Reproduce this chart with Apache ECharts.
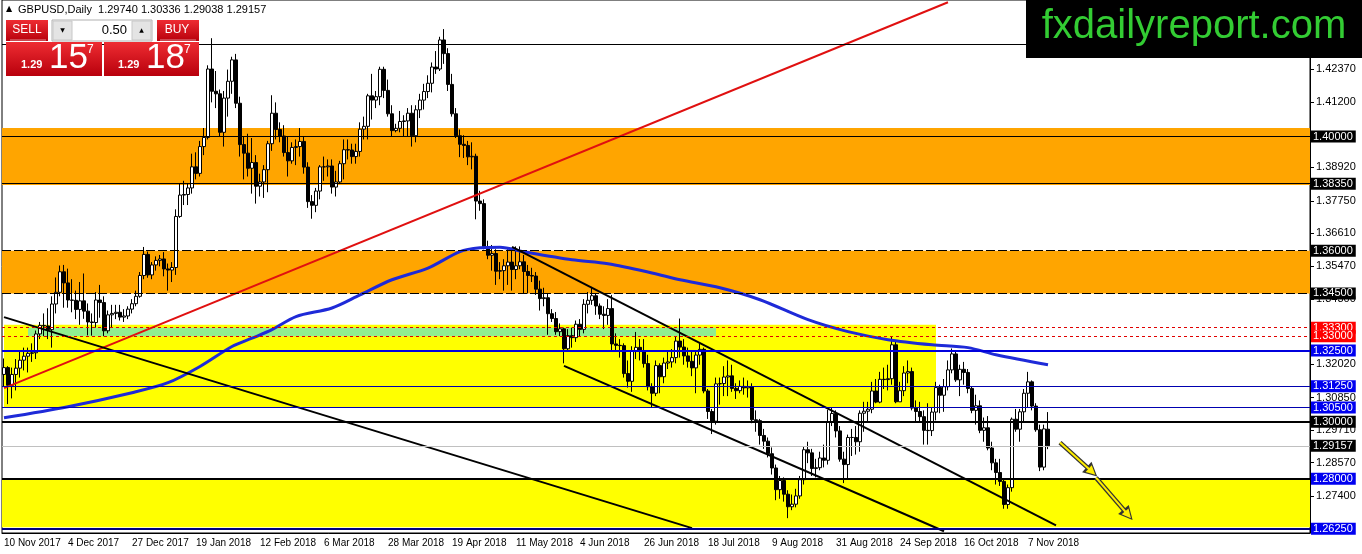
<!DOCTYPE html>
<html>
<head>
<meta charset="utf-8">
<title>GBPUSD Daily</title>
<script src="https://cdn.jsdelivr.net/npm/echarts@6/dist/echarts.min.js"></script>
<style>
  html, body { margin: 0; padding: 0; background: #fff; }
  #main { width: 1362px; height: 554px; }
</style>
</head>
<body>
<div id="main"></div>
<script>
// trading days start on 10 Nov 2017, Christmas and New Year have no bar
const firstDay = '2017-11-10';
const holidays = ['2017-12-25', '2018-01-01'];
const slotCount = 327;

// daily candles, [open, close, low, high]
const candles = [
  [1.3166, 1.3190, 1.3122, 1.3222], [1.3190, 1.3128, 1.3062, 1.3195], [1.3128, 1.3166, 1.3082, 1.3190],
  [1.3166, 1.3188, 1.3110, 1.3220], [1.3188, 1.3216, 1.3155, 1.3250], [1.3216, 1.3230, 1.3180, 1.3260],
  [1.3230, 1.3240, 1.3173, 1.3260], [1.3240, 1.3242, 1.3210, 1.3275], [1.3242, 1.3308, 1.3220, 1.3320],
  [1.3308, 1.3338, 1.3290, 1.3350], [1.3338, 1.3336, 1.3300, 1.3380], [1.3336, 1.3323, 1.3290, 1.3398],
  [1.3323, 1.3413, 1.3260, 1.3440], [1.3413, 1.3454, 1.3380, 1.3506], [1.3454, 1.3526, 1.3440, 1.3548],
  [1.3526, 1.3487, 1.3400, 1.3550], [1.3487, 1.3427, 1.3400, 1.3537], [1.3427, 1.3426, 1.3384, 1.3500],
  [1.3426, 1.3394, 1.3360, 1.3460], [1.3394, 1.3424, 1.3340, 1.3490], [1.3424, 1.3388, 1.3361, 1.3520],
  [1.3388, 1.3350, 1.3303, 1.3415], [1.3350, 1.3348, 1.3302, 1.3380], [1.3348, 1.3427, 1.3330, 1.3455],
  [1.3427, 1.3418, 1.3365, 1.3480], [1.3418, 1.3319, 1.3300, 1.3440], [1.3319, 1.3375, 1.3310, 1.3390],
  [1.3375, 1.3380, 1.3330, 1.3410], [1.3380, 1.3384, 1.3360, 1.3410], [1.3384, 1.3367, 1.3355, 1.3410],
  [1.3367, 1.3371, 1.3350, 1.3395], [1.3371, 1.3395, 1.3360, 1.3405], [1.3395, 1.3414, 1.3380, 1.3430],
  [1.3414, 1.3440, 1.3405, 1.3460], [1.3440, 1.3513, 1.3435, 1.3525], [1.3513, 1.3587, 1.3500, 1.3613],
  [1.3587, 1.3515, 1.3505, 1.3597], [1.3515, 1.3550, 1.3500, 1.3560], [1.3550, 1.3566, 1.3530, 1.3580],
  [1.3566, 1.3571, 1.3545, 1.3585], [1.3571, 1.3536, 1.3510, 1.3595], [1.3536, 1.3532, 1.3460, 1.3555],
  [1.3532, 1.3541, 1.3490, 1.3560], [1.3541, 1.3720, 1.3515, 1.3745], [1.3720, 1.3795, 1.3715, 1.3835],
  [1.3795, 1.3797, 1.3760, 1.3845], [1.3797, 1.3820, 1.3760, 1.3835], [1.3820, 1.3894, 1.3800, 1.3940],
  [1.3894, 1.3871, 1.3850, 1.3945], [1.3871, 1.3965, 1.3860, 1.3985], [1.3965, 1.3997, 1.3935, 1.4030],
  [1.3997, 1.4237, 1.3990, 1.4250], [1.4237, 1.4159, 1.4120, 1.4345], [1.4159, 1.4150, 1.4100, 1.4230],
  [1.4150, 1.4015, 1.4000, 1.4165], [1.4015, 1.4135, 1.3965, 1.4160], [1.4135, 1.4194, 1.4070, 1.4235],
  [1.4194, 1.4269, 1.4150, 1.4280], [1.4269, 1.4117, 1.4100, 1.4290], [1.4117, 1.3972, 1.3930, 1.4140],
  [1.3972, 1.3942, 1.3850, 1.4000], [1.3942, 1.3889, 1.3860, 1.4010], [1.3889, 1.3909, 1.3800, 1.3995],
  [1.3909, 1.3826, 1.3765, 1.3935], [1.3826, 1.3841, 1.3790, 1.3870], [1.3841, 1.3884, 1.3785, 1.3900],
  [1.3884, 1.3975, 1.3805, 1.3985], [1.3975, 1.4082, 1.3950, 1.4145], [1.4082, 1.4025, 1.3990, 1.4120],
  [1.4025, 1.4002, 1.3980, 1.4050], [1.4002, 1.3944, 1.3930, 1.4040], [1.3944, 1.3915, 1.3860, 1.4000],
  [1.3915, 1.3962, 1.3905, 1.3980], [1.3962, 1.3965, 1.3900, 1.3990], [1.3965, 1.3983, 1.3930, 1.4030],
  [1.3983, 1.3893, 1.3870, 1.4000], [1.3893, 1.3772, 1.3750, 1.3910], [1.3772, 1.3759, 1.3712, 1.3795],
  [1.3759, 1.3809, 1.3735, 1.3820], [1.3809, 1.3894, 1.3780, 1.3900], [1.3894, 1.3894, 1.3845, 1.3930],
  [1.3894, 1.3897, 1.3860, 1.3920], [1.3897, 1.3823, 1.3800, 1.3920], [1.3823, 1.3841, 1.3790, 1.3880],
  [1.3841, 1.3905, 1.3835, 1.3915], [1.3905, 1.3954, 1.3850, 1.3990], [1.3954, 1.3953, 1.3920, 1.3990],
  [1.3953, 1.3930, 1.3905, 1.3975], [1.3930, 1.3948, 1.3905, 1.3975], [1.3948, 1.4026, 1.3930, 1.4050],
  [1.4026, 1.4036, 1.3990, 1.4070], [1.4036, 1.4143, 1.3990, 1.4150], [1.4143, 1.4128, 1.4060, 1.4220],
  [1.4128, 1.4140, 1.4100, 1.4160], [1.4140, 1.4236, 1.4110, 1.4245], [1.4236, 1.4162, 1.4135, 1.4245],
  [1.4162, 1.4080, 1.4070, 1.4200], [1.4080, 1.4021, 1.4000, 1.4110], [1.4021, 1.4029, 1.4015, 1.4045],
  [1.4029, 1.4053, 1.4015, 1.4090], [1.4053, 1.4055, 1.4000, 1.4075], [1.4055, 1.4082, 1.4000, 1.4100],
  [1.4082, 1.4003, 1.3965, 1.4110], [1.4003, 1.4094, 1.3980, 1.4110], [1.4094, 1.4128, 1.4065, 1.4150],
  [1.4128, 1.4158, 1.4095, 1.4185], [1.4158, 1.4187, 1.4135, 1.4215], [1.4187, 1.4244, 1.4155, 1.4260],
  [1.4244, 1.4237, 1.4220, 1.4300], [1.4237, 1.4339, 1.4230, 1.4350], [1.4339, 1.4291, 1.4255, 1.4377],
  [1.4291, 1.4183, 1.4160, 1.4310], [1.4183, 1.4080, 1.4070, 1.4220], [1.4080, 1.4003, 1.3995, 1.4100],
  [1.4003, 1.3973, 1.3928, 1.4025], [1.3973, 1.3969, 1.3925, 1.4005], [1.3969, 1.3929, 1.3900, 1.3985],
  [1.3929, 1.3931, 1.3885, 1.3980], [1.3931, 1.3774, 1.3710, 1.3940], [1.3774, 1.3765, 1.3740, 1.3810],
  [1.3765, 1.3614, 1.3605, 1.3780], [1.3614, 1.3584, 1.3570, 1.3635], [1.3584, 1.3590, 1.3530, 1.3620],
  [1.3590, 1.3528, 1.3480, 1.3605], [1.3528, 1.3530, 1.3500, 1.3560], [1.3530, 1.3547, 1.3460, 1.3570],
  [1.3547, 1.3560, 1.3480, 1.3605], [1.3560, 1.3534, 1.3460, 1.3605], [1.3534, 1.3547, 1.3500, 1.3615],
  [1.3547, 1.3561, 1.3535, 1.3615], [1.3561, 1.3527, 1.3450, 1.3585], [1.3527, 1.3513, 1.3450, 1.3550],
  [1.3513, 1.3511, 1.3490, 1.3540], [1.3511, 1.3465, 1.3445, 1.3525], [1.3465, 1.3432, 1.3390, 1.3495],
  [1.3432, 1.3435, 1.3405, 1.3470], [1.3435, 1.3379, 1.3305, 1.3450], [1.3379, 1.3362, 1.3350, 1.3395],
  [1.3362, 1.3316, 1.3305, 1.3385], [1.3316, 1.3326, 1.3300, 1.3345], [1.3326, 1.3256, 1.3205, 1.3330],
  [1.3256, 1.3302, 1.3250, 1.3325], [1.3302, 1.3295, 1.3260, 1.3330], [1.3295, 1.3342, 1.3280, 1.3355],
  [1.3342, 1.3324, 1.3300, 1.3360], [1.3324, 1.3412, 1.3310, 1.3430], [1.3412, 1.3426, 1.3380, 1.3455],
  [1.3426, 1.3442, 1.3410, 1.3473], [1.3442, 1.3406, 1.3375, 1.3450], [1.3406, 1.3377, 1.3360, 1.3415],
  [1.3377, 1.3373, 1.3325, 1.3405], [1.3373, 1.3397, 1.3340, 1.3430], [1.3397, 1.3273, 1.3250, 1.3445],
  [1.3273, 1.3268, 1.3245, 1.3310], [1.3268, 1.3267, 1.3225, 1.3290], [1.3267, 1.3169, 1.3155, 1.3275],
  [1.3169, 1.3142, 1.3120, 1.3215], [1.3142, 1.3250, 1.3105, 1.3265], [1.3250, 1.3261, 1.3220, 1.3315],
  [1.3261, 1.3248, 1.3215, 1.3290], [1.3248, 1.3204, 1.3190, 1.3290], [1.3204, 1.3123, 1.3110, 1.3235],
  [1.3123, 1.3100, 1.3050, 1.3135], [1.3100, 1.3197, 1.3090, 1.3215], [1.3197, 1.3158, 1.3100, 1.3205],
  [1.3158, 1.3206, 1.3135, 1.3225], [1.3206, 1.3210, 1.3185, 1.3245], [1.3210, 1.3225, 1.3190, 1.3255],
  [1.3225, 1.3283, 1.3205, 1.3300], [1.3283, 1.3262, 1.3225, 1.3362], [1.3262, 1.3231, 1.3200, 1.3290],
  [1.3231, 1.3212, 1.3190, 1.3260], [1.3212, 1.3189, 1.3160, 1.3245], [1.3189, 1.3234, 1.3100, 1.3245],
  [1.3234, 1.3254, 1.3200, 1.3275], [1.3254, 1.3108, 1.3100, 1.3260], [1.3108, 1.3036, 1.3010, 1.3115],
  [1.3036, 1.3002, 1.2957, 1.3045], [1.3002, 1.3133, 1.2990, 1.3155], [1.3133, 1.3134, 1.3060, 1.3155],
  [1.3134, 1.3157, 1.3090, 1.3195], [1.3157, 1.3161, 1.3090, 1.3215], [1.3161, 1.3117, 1.3105, 1.3200],
  [1.3117, 1.3109, 1.3080, 1.3135], [1.3109, 1.3124, 1.3100, 1.3145], [1.3124, 1.3119, 1.3095, 1.3155],
  [1.3119, 1.3123, 1.3085, 1.3145], [1.3123, 1.3007, 1.2995, 1.3135], [1.3007, 1.3004, 1.2965, 1.3040],
  [1.3004, 1.2952, 1.2920, 1.3010], [1.2952, 1.2932, 1.2905, 1.2975], [1.2932, 1.2888, 1.2875, 1.2945],
  [1.2888, 1.2838, 1.2815, 1.2910], [1.2838, 1.2762, 1.2725, 1.2850], [1.2762, 1.2794, 1.2730, 1.2810],
  [1.2794, 1.2746, 1.2720, 1.2805], [1.2746, 1.2702, 1.2662, 1.2760], [1.2702, 1.2711, 1.2690, 1.2745],
  [1.2711, 1.2740, 1.2700, 1.2765], [1.2740, 1.2797, 1.2730, 1.2810], [1.2797, 1.2902, 1.2780, 1.2915],
  [1.2902, 1.2891, 1.2855, 1.2930], [1.2891, 1.2836, 1.2810, 1.2905], [1.2836, 1.2839, 1.2805, 1.2870],
  [1.2839, 1.2873, 1.2830, 1.2895], [1.2873, 1.2865, 1.2840, 1.2920], [1.2865, 1.3000, 1.2850, 1.3042],
  [1.3000, 1.3029, 1.2985, 1.3050], [1.3029, 1.2968, 1.2945, 1.3040], [1.2968, 1.2869, 1.2860, 1.2985],
  [1.2869, 1.2850, 1.2785, 1.2895], [1.2850, 1.2945, 1.2800, 1.2955], [1.2945, 1.2945, 1.2880, 1.2975],
  [1.2945, 1.2930, 1.2885, 1.2985], [1.2930, 1.3030, 1.2895, 1.3040], [1.3030, 1.3037, 1.2965, 1.3070],
  [1.3037, 1.3044, 1.3000, 1.3070], [1.3044, 1.3108, 1.3030, 1.3140], [1.3108, 1.3069, 1.3065, 1.3150],
  [1.3069, 1.3149, 1.3065, 1.3175], [1.3149, 1.3148, 1.3115, 1.3190], [1.3148, 1.3151, 1.3110, 1.3200],
  [1.3151, 1.3270, 1.3130, 1.3298], [1.3270, 1.3070, 1.3065, 1.3285], [1.3070, 1.3109, 1.3070, 1.3140],
  [1.3109, 1.3171, 1.3090, 1.3195], [1.3171, 1.3176, 1.3135, 1.3215], [1.3176, 1.3048, 1.3040, 1.3190],
  [1.3048, 1.3036, 1.3000, 1.3075], [1.3036, 1.3018, 1.3000, 1.3070], [1.3018, 1.2970, 1.2920, 1.3040],
  [1.2970, 1.2969, 1.2920, 1.3065], [1.2969, 1.3034, 1.2950, 1.3050], [1.3034, 1.3120, 1.3005, 1.3140],
  [1.3120, 1.3093, 1.3030, 1.3130], [1.3093, 1.3123, 1.3035, 1.3150], [1.3123, 1.3182, 1.3110, 1.3215],
  [1.3182, 1.3238, 1.3170, 1.3257], [1.3238, 1.3147, 1.3140, 1.3250], [1.3147, 1.3184, 1.3090, 1.3200],
  [1.3184, 1.3173, 1.3130, 1.3210], [1.3173, 1.3117, 1.3100, 1.3185], [1.3117, 1.3040, 1.3030, 1.3125],
  [1.3040, 1.3056, 1.2990, 1.3095], [1.3056, 1.2970, 1.2960, 1.3075], [1.2970, 1.2979, 1.2930, 1.3015],
  [1.2979, 1.2908, 1.2900, 1.3020], [1.2908, 1.2856, 1.2830, 1.2930], [1.2856, 1.2822, 1.2780, 1.2870],
  [1.2822, 1.2791, 1.2775, 1.2870], [1.2791, 1.2710, 1.2695, 1.2800], [1.2710, 1.2769, 1.2695, 1.2780],
  [1.2769, 1.3009, 1.2755, 1.3015], [1.3009, 1.2974, 1.2965, 1.3045], [1.2974, 1.3035, 1.2930, 1.3045],
  [1.3035, 1.3100, 1.3000, 1.3115], [1.3100, 1.3140, 1.3050, 1.3175], [1.3140, 1.3055, 1.3040, 1.3145],
  [1.3055, 1.2972, 1.2965, 1.3065], [1.2972, 1.2841, 1.2827, 1.2990], [1.2841, 1.2975, 1.2830, 1.2990],
  [1.2974, 1.2916, 1.2904, 1.3034]
];

// moving average: bar index and value
const maIndex = [0, 16, 32, 41, 49, 57, 62, 67, 73, 82, 89, 97, 106, 114, 119, 124, 130, 142, 151, 162, 169, 179, 189, 201, 211, 221, 232, 241, 248, 261];
const maValue = [1.3014, 1.3053, 1.3102, 1.3137, 1.3194, 1.3264, 1.3293, 1.3323, 1.3369, 1.3399, 1.3445, 1.3498, 1.3539, 1.3597, 1.3610,
  1.3612, 1.3596, 1.3568, 1.3554, 1.3522, 1.3498, 1.3470, 1.3428, 1.3358, 1.3316, 1.3288, 1.3270, 1.3260, 1.3235, 1.3200];

// horizontal levels
const levelPrices = [1.4325, 1.40000, 1.38350, 1.36000, 1.34500, 1.33300, 1.33000, 1.32500, 1.31250, 1.30500, 1.30000, 1.29157, 1.28000, 1.26250];
// price axis tick labels
const yTicks = [1.42370, 1.41200, 1.38920, 1.37750, 1.36610, 1.35470, 1.34300, 1.32020, 1.30850, 1.29710, 1.28570, 1.27400];

// zones [fromBar, toBar, top, bottom]; null bar = whole width
const orangeZones = [[null, null, 1.4030, 1.3830], [null, null, 1.3600, 1.3450]];
const yellowZones = [[0, 233, 1.3340, 1.3052], [null, null, 1.2800, 1.2630]];
const greenZones = [[6, 178, 1.3330, 1.3300]];

// trend lines, [bar, price] end points
const redLine = [[0, 1.3118], [236, 1.4471]];
const longLine = [[0, 1.3367], [172, 1.2627]];
const channelTop = [[127, 1.3613], [263, 1.2637]];
const channelBottom = [[140, 1.3196], [235, 1.2616]];
const arrows = [[[264, 1.2927], [272, 1.2825]], [[273, 1.2804], [281, 1.2674]]];

const header = 'GBPUSD,Daily  1.29740 1.30336 1.29038 1.29157';

// ---------------------------------------------------------------
const months = ['Jan', 'Feb', 'Mar', 'Apr', 'May', 'Jun', 'Jul', 'Aug', 'Sep', 'Oct', 'Nov', 'Dec'];
const dates = [];
let d = new Date(firstDay + 'T00:00:00Z');
while (dates.length < slotCount) {
  const iso = d.toISOString().slice(0, 10);
  const wd = d.getUTCDay();
  if (wd !== 0 && wd !== 6 && holidays.indexOf(iso) < 0) dates.push(iso);
  d = new Date(d.getTime() + 86400000);
}
const lastBar = candles.length - 1;
const showDate = (i) => i % 16 === 0 && i <= lastBar;
const fmtDate = (iso) => {
  const p = iso.split('-');
  return (+p[2]) + ' ' + months[+p[1] - 1] + ' ' + p[0];
};

const levelStyles = [
  { color: '#000', width: 1, type: 'solid', tag: null },
  { color: '#000', width: 1, type: 'solid', tag: '#000' },
  { color: '#000', width: 1, type: 'solid', tag: '#000' },
  { color: '#000', width: 1, type: [9, 3], tag: '#000' },
  { color: '#000', width: 1, type: [9, 3], tag: '#000' },
  { color: '#e00000', width: 1, type: [3, 3], tag: '#ff0000' },
  { color: '#e00000', width: 1, type: [3, 3], tag: '#ff0000' },
  { color: '#0000dd', width: 2, type: 'solid', tag: '#0000f0' },
  { color: '#0000b0', width: 1, type: 'solid', tag: '#0000f0' },
  { color: '#0000b0', width: 1, type: 'solid', tag: '#0000f0' },
  { color: '#000', width: 2, type: 'solid', tag: '#000' },
  { color: '#c0c0c0', width: 1, type: 'solid', tag: '#000' },
  { color: '#000', width: 2, type: 'solid', tag: '#0000f0' },
  { color: '#000080', width: 2, type: 'solid', tag: '#0000f0' }
];

const levelLines = levelPrices.map((v, i) => {
  const s = levelStyles[i];
  return {
    yAxis: v,
    lineStyle: { color: s.color, width: s.width, type: s.type },
    label: s.tag ? {
      show: true, position: 'end', distance: 1, formatter: v.toFixed(5),
      color: '#fff', backgroundColor: s.tag, padding: [1, 3, 0, 2],
      fontFamily: 'Liberation Sans', fontSize: 11
    } : { show: false }
  };
});

function zoneItems(list, color) {
  return list.map(z => {
    const a = { yAxis: z[2], itemStyle: { color: color } };
    const b = { yAxis: z[3] };
    if (z[0] !== null) { a.xAxis = z[0]; b.xAxis = z[1]; }
    return [a, b];
  });
}

function trend(name, pts, color, width) {
  return {
    name: name, type: 'line', data: pts, showSymbol: false, silent: true, z: 4,
    lineStyle: { color: color, width: width }
  };
}

const arrowLines = (color, width, size, z) => ({
  type: 'line', data: [], z: z, silent: true,
  markLine: {
    silent: true, symbol: ['none', 'triangle'], symbolSize: size, animation: false,
    lineStyle: { color: color, width: width, type: 'solid' }, label: { show: false },
    data: arrows.map(a => [{ coord: a[0] }, { coord: a[1] }])
  }
});

const chart = echarts.init(document.getElementById('main'), null, { renderer: 'canvas' });
const red = new echarts.graphic.LinearGradient(0, 0, 0, 1, [
  { offset: 0, color: '#ee2c32' }, { offset: 1, color: '#b8000c' }
]);
const font = 'Liberation Sans';

chart.setOption({
  animation: false,
  textStyle: { fontFamily: font },
  grid: { left: 2, right: 52, top: 0, bottom: 21, show: true, borderColor: '#000', borderWidth: 1 },
  xAxis: {
    type: 'category', data: dates, boundaryGap: true,
    axisLine: { lineStyle: { color: '#000', width: 1 } },
    axisTick: { interval: (i) => showDate(i), alignWithLabel: true, length: 4, lineStyle: { color: '#000' } },
    axisLabel: {
      interval: (i) => showDate(i), formatter: fmtDate, align: 'left', margin: 5,
      color: '#000', fontSize: 10, fontFamily: font
    },
    splitLine: { show: false }
  },
  yAxis: {
    type: 'value', position: 'right', min: 1.2610, max: 1.4479, scale: true,
    axisLine: { show: true, lineStyle: { color: '#000' } },
    axisTick: { show: true, customValues: yTicks, length: 4, lineStyle: { color: '#000' } },
    axisLabel: { customValues: yTicks, formatter: (v) => v.toFixed(5), color: '#000', fontSize: 11, margin: 6, fontFamily: font },
    splitLine: { show: false }
  },
  series: [
    {
      name: 'zones', type: 'line', data: [], z: 1, silent: true,
      markArea: {
        silent: true,
        data: zoneItems(orangeZones, '#ffa500')
          .concat(zoneItems(yellowZones, '#ffff00'))
          .concat(zoneItems(greenZones, '#90ee90'))
      }
    },
    {
      name: 'levels', type: 'line', data: [], z: 2, silent: true,
      markLine: { silent: true, symbol: 'none', animation: false, precision: 5, data: levelLines }
    },
    {
      name: 'GBPUSD', type: 'candlestick', data: candles, z: 3, barWidth: 3,
      itemStyle: { color: '#fff', color0: '#000', borderColor: '#000', borderColor0: '#000', borderWidth: 1 }
    },
    {
      name: 'MA', type: 'line', data: maIndex.map((x, k) => [x, maValue[k]]), smooth: 0.3,
      showSymbol: false, silent: true, z: 4, lineStyle: { color: '#1e2ad8', width: 3 }
    },
    trend('red', redLine, '#e01010', 2),
    trend('long', longLine, '#000', 2),
    trend('channelTop', channelTop, '#000', 2),
    trend('channelBottom', channelBottom, '#000', 2),
    arrowLines('#333', 4.5, 14, 6),
    arrowLines('#ffee00', 2, 9, 7)
  ],
  graphic: [
    // top left title
    { type: 'text', left: 6, top: 5, z: 100, style: { text: '▲', fontSize: 8, fill: '#000', fontFamily: 'DejaVu Sans' } },
    { type: 'text', left: 18, top: 4, z: 100, style: { text: header, fontSize: 11, fill: '#000', fontFamily: font } },
    // one click trading panel
    { type: 'rect', shape: { x: 6, y: 20, width: 42, height: 21 }, z: 100, style: { fill: red } },
    { type: 'line', shape: { x1: 10, y1: 40, x2: 46, y2: 40 }, z: 101, style: { stroke: 'rgba(255,255,255,0.55)', lineWidth: 1 } },
    { type: 'text', x: 27, y: 30, z: 101, style: { text: 'SELL', fill: '#fff', fontSize: 12, align: 'center', verticalAlign: 'middle', fontFamily: font } },
    { type: 'rect', shape: { x: 52, y: 20, width: 100, height: 21 }, z: 100, style: { fill: '#fff', stroke: '#b0b0b0', lineWidth: 1 } },
    { type: 'rect', shape: { x: 53, y: 21, width: 19, height: 19 }, z: 101, style: { fill: '#e4e4e4', stroke: '#c8c8c8' } },
    { type: 'rect', shape: { x: 132, y: 21, width: 19, height: 19 }, z: 101, style: { fill: '#e4e4e4', stroke: '#c8c8c8' } },
    { type: 'text', x: 62.5, y: 30, z: 102, style: { text: '▼', fill: '#000', fontSize: 6, align: 'center', verticalAlign: 'middle', fontFamily: 'DejaVu Sans' } },
    { type: 'text', x: 141.5, y: 30, z: 102, style: { text: '▲', fill: '#000', fontSize: 6, align: 'center', verticalAlign: 'middle', fontFamily: 'DejaVu Sans' } },
    { type: 'text', x: 127, y: 30, z: 102, style: { text: '0.50', fill: '#000', fontSize: 13, align: 'right', verticalAlign: 'middle', fontFamily: font } },
    { type: 'rect', shape: { x: 157, y: 20, width: 42, height: 21 }, z: 100, style: { fill: red } },
    { type: 'line', shape: { x1: 160, y1: 40, x2: 196, y2: 40 }, z: 101, style: { stroke: 'rgba(255,255,255,0.55)', lineWidth: 1 } },
    { type: 'text', x: 177, y: 30, z: 101, style: { text: 'BUY', fill: '#fff', fontSize: 12, align: 'center', verticalAlign: 'middle', fontFamily: font } },
    { type: 'rect', shape: { x: 6, y: 42, width: 96, height: 34 }, z: 100, style: { fill: red } },
    { type: 'rect', shape: { x: 104, y: 42, width: 95, height: 34 }, z: 100, style: { fill: red } },
    { type: 'text', x: 21, y: 65, z: 101, style: { text: '1.29', fill: '#fff', fontSize: 11, fontWeight: 'bold', verticalAlign: 'middle', fontFamily: font } },
    { type: 'text', x: 49, y: 58, z: 101, style: { text: '15', fill: '#fff', fontSize: 35, verticalAlign: 'middle', fontFamily: font } },
    { type: 'text', x: 87, y: 50, z: 101, style: { text: '7', fill: '#fff', fontSize: 12, verticalAlign: 'middle', fontFamily: font } },
    { type: 'text', x: 118, y: 65, z: 101, style: { text: '1.29', fill: '#fff', fontSize: 11, fontWeight: 'bold', verticalAlign: 'middle', fontFamily: font } },
    { type: 'text', x: 146, y: 58, z: 101, style: { text: '18', fill: '#fff', fontSize: 35, verticalAlign: 'middle', fontFamily: font } },
    { type: 'text', x: 184, y: 50, z: 101, style: { text: '7', fill: '#fff', fontSize: 12, verticalAlign: 'middle', fontFamily: font } },
    // site badge
    { type: 'rect', shape: { x: 1026, y: 0, width: 336, height: 58 }, z: 100, style: { fill: '#000' } },
    { type: 'text', x: 1194, y: 27, z: 101, style: { text: 'fxdailyreport.com', fill: '#33cc33', fontSize: 40, align: 'center', verticalAlign: 'middle', fontFamily: font } }
  ]
});
</script>
</body>
</html>
